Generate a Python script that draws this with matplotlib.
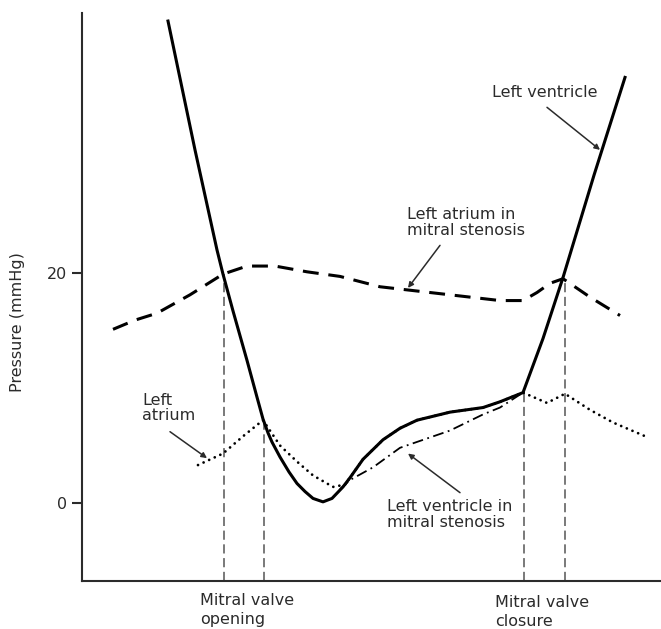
import matplotlib
import matplotlib.pyplot as plt

matplotlib.use("Agg")

# time in arbitrary units across the cardiac cycle, pressure in mmHg
lv_time = [86, 113, 135, 141, 151, 165, 175, 181, 186, 190, 198, 207, 215, 223,
           231, 241, 250, 261, 268, 281, 301, 318, 335, 368, 401, 418, 441, 461,
           481, 512, 543]
lv_pressure = [41.9, 30.7, 22.0, 19.9, 16.7, 12.4, 9.2, 7.3, 6.1, 5.3, 4.0, 2.7, 1.7,
               1.0, 0.4, 0.1, 0.4, 1.4, 2.2, 3.8, 5.5, 6.5, 7.2, 7.9, 8.3, 8.8, 9.6,
               14.3, 19.6, 28.5, 37.0]

la_ms_time = [31, 53, 75, 108, 141, 165, 193, 225, 258, 298, 338, 378, 418, 441,
              455, 468, 481, 508, 538]
la_ms_pressure = [15.1, 15.9, 16.5, 18.1, 19.9, 20.6, 20.6, 20.1, 19.7, 18.8, 18.4, 18.0,
                  17.6, 17.6, 18.3, 19.1, 19.5, 17.9, 16.3]

la_time = [116, 141, 161, 181, 198, 215, 231, 251, 263, 268, 281, 301, 318, 335,
           368, 401, 418, 441, 465, 483, 508, 531, 566]
la_pressure = [3.3, 4.3, 5.8, 7.2, 5.0, 3.6, 2.4, 1.4, 1.6, 2.2, 3.8, 5.5, 6.5, 7.2,
               7.9, 8.3, 8.8, 9.6, 8.7, 9.5, 8.1, 7.0, 5.7]

lv_ms_time = [258, 268, 291, 318, 368, 401, 418, 441]
lv_ms_pressure = [1.2, 2.0, 3.1, 4.8, 6.3, 7.7, 8.3, 9.6]

valve_time = [142, 182, 442, 483]
valve_pressure = [19.9, 7.2, 9.6, 19.5]

yticks = [0, 20]

W, H = 661, 629
fig = plt.figure(figsize=(W / 100, H / 100), dpi=100)
ax = fig.add_axes([82 / W, 1 - 581 / H, (W - 82) / W, (581 - 13) / H])
ax.set_xlim(0, 579)
ax.set_ylim(-6.78, 42.6)

text_color = "#2b2b2b"
fs = 11.5

ax.vlines(valve_time, -6.78, valve_pressure, colors="#555555", lw=1.1,
          linestyles=(0, (6, 3)))
ax.plot(la_ms_time, la_ms_pressure, color="black", lw=2.2, dashes=(5.2, 3.2))
ax.plot(lv_ms_time, lv_ms_pressure, color="black", lw=1.3,
        dashes=(6, 2.5, 1, 2.5))
ax.plot(lv_time, lv_pressure, color="black", lw=2.2, solid_joinstyle="round")
ax.plot(la_time, la_pressure, color="black", lw=2.0, dashes=(0.01, 2.2),
        dash_capstyle="round")

for side in ["top", "right"]:
    ax.spines[side].set_visible(False)
for side in ["left", "bottom"]:
    ax.spines[side].set_linewidth(1.5)
    ax.spines[side].set_color(text_color)

ax.set_xticks([])
ax.set_yticks(yticks)
ax.tick_params(axis="y", length=7, width=1.5, color=text_color,
               labelsize=fs, labelcolor=text_color, pad=4)

fig.text(18 / W, 1 - 322 / H, "Pressure (mmHg)", rotation=90, ha="center",
         va="center", fontsize=fs, color=text_color)

arrow = dict(arrowstyle="-|>", color=text_color, lw=1.1, mutation_scale=8,
             shrinkA=0, shrinkB=0)
ax.text(410, 36.3, "Left ventricle", fontsize=fs, color=text_color, va="top")
ax.annotate("", xy=(518, 30.7), xytext=(465, 34.4), arrowprops=arrow)

ax.text(325, 25.7, "Left atrium in\nmitral stenosis", fontsize=fs,
        color=text_color, va="top", linespacing=1.05)
ax.annotate("", xy=(326, 18.7), xytext=(358, 22.4), arrowprops=arrow)

ax.text(60, 9.6, "Left\natrium", fontsize=fs, color=text_color, va="top",
        linespacing=1.05)
ax.annotate("", xy=(125, 3.9), xytext=(88, 6.2), arrowprops=arrow)

ax.text(305, 0.35, "Left ventricle in\nmitral stenosis", fontsize=fs,
        color=text_color, va="top", linespacing=1.05)
ax.annotate("", xy=(326, 4.3), xytext=(378, 0.9), arrowprops=arrow)

ax.text(118, -7.83, "Mitral valve\nopening", fontsize=fs, color=text_color,
        va="top", linespacing=1.3, clip_on=False)
ax.text(413, -8.0, "Mitral valve\nclosure", fontsize=fs, color=text_color,
        va="top", linespacing=1.3, clip_on=False)

fig.savefig("out.png", dpi=100)
